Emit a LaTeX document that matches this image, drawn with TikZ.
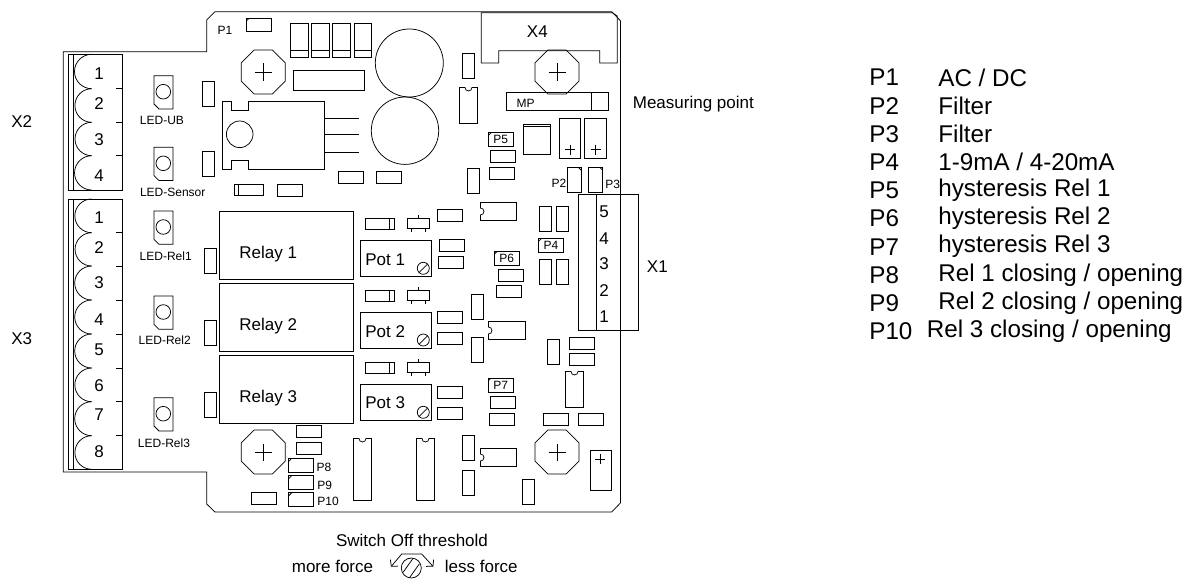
\documentclass[tikz,border=0pt]{standalone}
\usepackage{fontspec}
\setmainfont{Liberation Sans}
\usepackage{tikz}
\usetikzlibrary{positioning,arrows.meta,shapes}

\begin{document}
\begin{tikzpicture}[x=1pt, y=-1pt, > = {Straight Barb[length=4.5pt,width=10pt]}, line width=0.75pt,
hpart/.style={ rectangle, draw, minimum width = 25pt, minimum height = 12pt, inner sep=0pt },
vpart/.style={ rectangle, draw, minimum width = 12pt, minimum height = 25pt, inner sep=0pt },
jumper/.style={ rectangle, draw, minimum width = 25pt, minimum height = 14pt, inner sep=0pt, font=\fontsize{12}{14}\selectfont,
  path picture={\draw ([xshift=3pt]path picture bounding box.north west) -- ([yshift=-3pt]path picture bounding box.north west);} },
filterjumper/.style={ rectangle, draw, minimum width = 14pt, minimum height = 25pt, inner sep=0pt,
  path picture={\draw ([xshift=-3pt]path picture bounding box.north east) -- ([yshift=-3pt]path picture bounding box.north east);} },
trimmer/.style={ regular polygon, regular polygon sides=8, draw, minimum size = 47.6pt, inner sep=0pt,
  path picture={\draw (path picture bounding box.center) +(-8.5,0) -- +(8.5,0) +(0,-8.5) -- +(0,8.5);} },
relay/.style={ rectangle, draw, minimum width = 134.4pt, minimum height = 68pt, inner sep=0pt },
pot/.style={ rectangle, draw, minimum width = 71pt, minimum height = 36pt, inner sep=0pt },
screw/.style={ circle, draw, minimum size = 12pt, inner sep=0pt,
  path picture={\draw (path picture bounding box.south west) -- (path picture bounding box.north east);} },
bigscrew/.style={ circle, draw, minimum size = 20pt, inner sep=0pt,
  path picture={\draw (path picture bounding box.center) +(-8,4) -- +(2,-10) +(-2,10) -- +(8,-4);} },
led/.style={ circle, draw, minimum size = 14.6pt, inner sep=0pt },
lab/.style={ font=\fontsize{17}{20}\selectfont, inner sep=0pt },
small/.style={ font=\fontsize{12}{14}\selectfont, inner sep=0pt },
listtext/.style={ font=\fontsize{24.2}{28}\selectfont, inner sep=0pt, anchor=west }]

\useasboundingbox (0,0) rectangle (1188,578);

%board outline
\draw (63.3,51.7) -- (206.7,51.7) -- (206.7,20) -- (215,11.7) -- (611.7,11.7) -- (620.4,20.7)
	-- (620.4,503) -- (611.7,512) -- (215,512) -- (206.7,504) -- (206.7,472) -- (63.3,472) -- cycle;

%terminals X2
\draw (68.3,54.3) rectangle (122.7,190);
\draw (73.3,54.3) -- (73.3,190);
\foreach \a/\b in {54.3/88.7,88.7/122.3,122.3/155.7,155.7/190}
{
\pgfmathsetmacro\rad{(\b-\a)/2}
\draw (91.7,\a) arc[start angle=90, end angle=270, radius=\rad pt];
}
\foreach \a in {88.7,122.3,155.7}
	\draw (116,\a) -- (122.7,\a);

%terminals X3
\draw (68.3,199) rectangle (122.7,469.3);
\draw (73.3,199) -- (73.3,469.3);
\foreach \a/\b in {199/232.7,232.7/266,266/300,300/334,334/368,368/401.7,401.7/435.7,435.7/469.3}
{
\pgfmathsetmacro\rad{(\b-\a)/2}
\draw (91.7,\a) arc[start angle=90, end angle=270, radius=\rad pt];
}
\foreach \a in {232.7,266,300,334,368,401.7,435.7}
	\draw (116,\a) -- (122.7,\a);

%numbers of the terminals
\foreach \t/\y in {1/74,2/104,3/140,4/176}
	\node (xtwo\t) [lab] at (99,\y) {\t};
\foreach \t/\y in {1/217.7,2/247.7,3/283,4/320,5/350,6/385.7,7/415,8/451.7}
	\node (xthree\t) [lab] at (99,\y) {\t};
\node (xtwo) [lab] at (21.7,121.7) {X2};
\node (xthree) [lab] at (21.7,338.3) {X3};

%leds
\foreach \n/\y in {ub/75.7,sensor/147.3,relone/211,reltwo/296,relthree/397.7}
{
\draw (154,\y) -- (173,\y) -- (173,\y+33.3) -- (159,\y+33.3) -- (154,\y+28.3) -- cycle;
\node (led\n) [led] at (163.3,\y+16) {};
}
\node (labub) [small] at (162,120) {LED-UB};
\node (labsensor) [small] at (172.7,192.7) {LED-Sensor};
\node (labrelone) [small] at (165.7,256.7) {LED-Rel1};
\node (labreltwo) [small] at (164.7,340.7) {LED-Rel2};
\node (labrelthree) [small] at (164,443.3) {LED-Rel3};

%small upright parts
\foreach \n/\x/\y in {a/208.7/93.7,b/208.5/163.7,c/468.7/66,d/473/180.7,e/545.3/218.7,f/562/218.7,g/545.3/271.7,h/562/271.7,i/477.2/307.3,j/477.2/350,k/553.3/352.3,l/210.7/261,m/210.7/333,n/210.7/405.3,o/468.7/447.7,p/468.7/483.3,q/528.2/491.7}
	\node (v\n) [vpart] at (\x,\y) {};

%small lying parts
\foreach \n/\x/\y in {a/289.7/190,b/351/177.3,c/389.3/177.3,d/503/156.2,e/502.2/173.5,f/510.7/275,g/509.3/291.7,h/582.2/343.8,i/582.2/359.5,j/503/402.2,k/502/419.5,l/555.5/419.5,m/590.5/419.5,n/450/215.3,o/451.7/245.2,p/451/262.3,q/450/317.3,r/450/338.3,s/450/392,t/450/413,u/308.8/431.8,v/308.8/448.3,w/264/498}
	\node (h\n) [hpart] at (\x,\y) {};

%jumpers
\node (pone) [jumper, minimum height=13.7pt] at (258.8,25) {};
\node (pfive) [jumper] at (500.7,139.7) {P5};
\node (psix) [jumper] at (506.7,258.3) {P6};
\node (pseven) [jumper] at (500.7,385) {P7};
\node (pfour) [jumper] at (551,245.3) {P4};
\node (peight) [jumper] at (301.3,465.3) {};
\node (pnine) [jumper] at (301.3,482.5) {};
\node (pten) [jumper] at (301.3,499.7) {};
\node (ptwo) [filterjumper] at (574.3,179.8) {};
\node (pthree) [filterjumper] at (595.7,179.8) {};
\node (labone) [small] at (225,30.5) {P1};
\node (labtwo) [small] at (559,183.3) {P2};
\node (labthree) [small] at (612.7,184.3) {P3};
\node (labeight) [small] at (324,467.3) {P8};
\node (labnine) [small] at (324.7,485.7) {P9};
\node (labten) [small] at (328,501.7) {P10};

%trimmers
\node (tone) [trimmer] at (263.3,72) {};
\node (ttwo) [trimmer] at (557,72) {};
\node (tthree) [trimmer] at (263.3,452) {};
\node (tfour) [trimmer] at (557,452) {};

%top capacitors
\foreach \x in {290.3,311.3,332.3,354.2}
{
\draw (\x,23.3) rectangle (\x+17.6,57.3);
\draw (\x,50.7) -- (\x+17.6,50.7);
}
\node (strip) [rectangle, draw, minimum width=71.3pt, minimum height=20pt] at (328.7,80.3) {};
\node (capa) [circle, draw, minimum size=68pt, inner sep=0pt] at (409.3,63) {};
\node (capb) [circle, draw, minimum size=67.4pt, inner sep=0pt] at (405,130.7) {};

%regulator
\draw (222.3,101) -- (231.7,101) -- (231.7,110.3) -- (248.7,110.3) -- (248.7,101) -- (324.7,101) -- (324.7,169)
	-- (248.7,169) -- (248.7,160) -- (231.7,160) -- (231.7,169) -- (222.3,169) -- cycle;
\node (reghole) [circle, draw, minimum size=26.6pt, inner sep=0pt] at (239.7,134.3) {};
\foreach \y in {118,134.7,152.3}
	\draw (324.7,\y) -- (358.7,\y);
\draw (234.3,184.3) rectangle (263.3,195.7);
\draw (238.3,184.3) -- (238.3,195.7);

%connector X4
\draw (481.3,12.7) -- (481.3,63) -- (498.7,63) -- (498.7,50.7) -- (599.7,50.7) -- (599.7,63) -- (617.3,63) -- (617.3,16) -- (612.3,12.7) -- cycle;
\node (xfour) [lab] at (537.3,31.7) {X4};

%measuring point
\draw (506.7,92.7) rectangle (608.7,110.3);
\draw (591.3,92.7) -- (591.3,110.3);
\node (mp) [small] at (525.7,103.3) {MP};
\node (measure) [lab, anchor=west] at (632.5,104) {Measuring point};

%square and plus parts
\draw (523.3,124.3) rectangle (550,154.7);
\draw (523.3,126.7) -- (550,126.7);
\foreach \xa/\xb/\ya/\yb/\px/\py in {559.3/580.7/118.3/158.3/570/149.7,584.3/606.7/118.3/158.3/595.7/149.7,590/611.7/450.3/490.7/600/459.3}
{
\draw (\xa,\ya) rectangle (\xb,\yb);
\draw (\px-5,\py) -- (\px+5,\py) (\px,\py-5) -- (\px,\py+5);
}

%upright ics
\foreach \xa/\xb/\ya/\yb in {459.5/477.5/87.5/123.5,565.5/583.5/371.5/407.5,353.5/371.5/438.5/500.5,416.5/434.5/438.5/500.5}
	\draw ({(\xa+\xb)/2-3.5},\ya) arc[start angle=180, end angle=360, radius=3.5pt] -- (\xb,\ya) -- (\xb,\yb) -- (\xa,\yb) -- (\xa,\ya) -- cycle;

%lying ics
\foreach \xa/\xb/\ya/\yb in {480.5/516.5/202.5/220.5,488.5/525.5/321.5/339.5,480.5/516.5/448.5/466.5}
	\draw (\xa,{(\ya+\yb)/2-3.5}) arc[start angle=90, end angle=-90, radius=3.5pt] -- (\xa,\yb) -- (\xb,\yb) -- (\xb,\ya) -- (\xa,\ya) -- cycle;

%connector X1
\draw (578.7,194.3) rectangle (638.7,330);
\draw (596,194.3) -- (596,330);
\foreach \t/\y in {5/211.7,4/238.3,3/263.3,2/291,1/316.7}
	\node (xone\t) [lab] at (604,\y) {\t};
\node (xone) [lab] at (657.3,266.3) {X1};

%relays
\foreach \n/\y/\ty in {1/245/254.3,2/317.2/325.7,3/389.2/397.7}
{
\node (relay\n) [relay] at (286.5,\y) {};
\node (lab\n) [lab, anchor=west] at (239,\ty) {Relay \n};
}

%pots and what stands over them
\foreach \n/\y/\ty/\sy/\oy in {1/258/259.3/268.3/218.3,2/330.2/331.5/340/290.3,3/402.2/403/412.3/362.3}
{
\node (pot\n) [pot] at (396.2,\y) {};
\node (potlab\n) [lab, anchor=west] at (365,\ty) {Pot \n};
\node (screw\n) [screw] at (423.3,\sy) {};
\draw (365.3,\oy) rectangle (394.7,\oy+11.4);
\draw (389.7,\oy) -- (389.7,\oy+11.4);
\draw (407,\oy) rectangle (429.3,\oy+10);
\draw (418,\oy-3.3) -- (418,\oy) (411,\oy+10) -- (411,\oy+13.4) (425,\oy+10) -- (425,\oy+13.4);
}

%threshold
\node (switchoff) [lab] at (412,540) {Switch Off threshold};
\node (moreforce) [lab] at (332.5,566) {more force};
\node (lessforce) [lab] at (481.3,566) {less force};
\node (swscrew) [bigscrew] at (411.3,568) {};
\coordinate (leftend) at (391,566.7);
\coordinate (rightend) at (433.3,566.7);
\draw [<->] (leftend) -- (401.7,554) -- (421.7,554) -- (rightend);

%list on the right
\foreach \p/\y/\t in {P1/77.5/{AC / DC},P2/105.7/Filter,P3/133.9/Filter,P4/162.1/{1-9mA / 4-20mA},P5/190.3/hysteresis Rel 1,P6/218.5/hysteresis Rel 2,P7/246.7/hysteresis Rel 3,P8/274.9/{Rel 1 closing / opening},P9/303.1/{Rel 2 closing / opening}}
{
\node (item\p) [listtext] at (869,\y) {\p};
\node (text\p) [listtext] at (938,\y) {\t};
}
\node (itemten) [listtext] at (869,331.3) {P10};
\node (textten) [listtext] at (926.5,331.3) {Rel 3 closing / opening};

\end{tikzpicture}
\end{document}
